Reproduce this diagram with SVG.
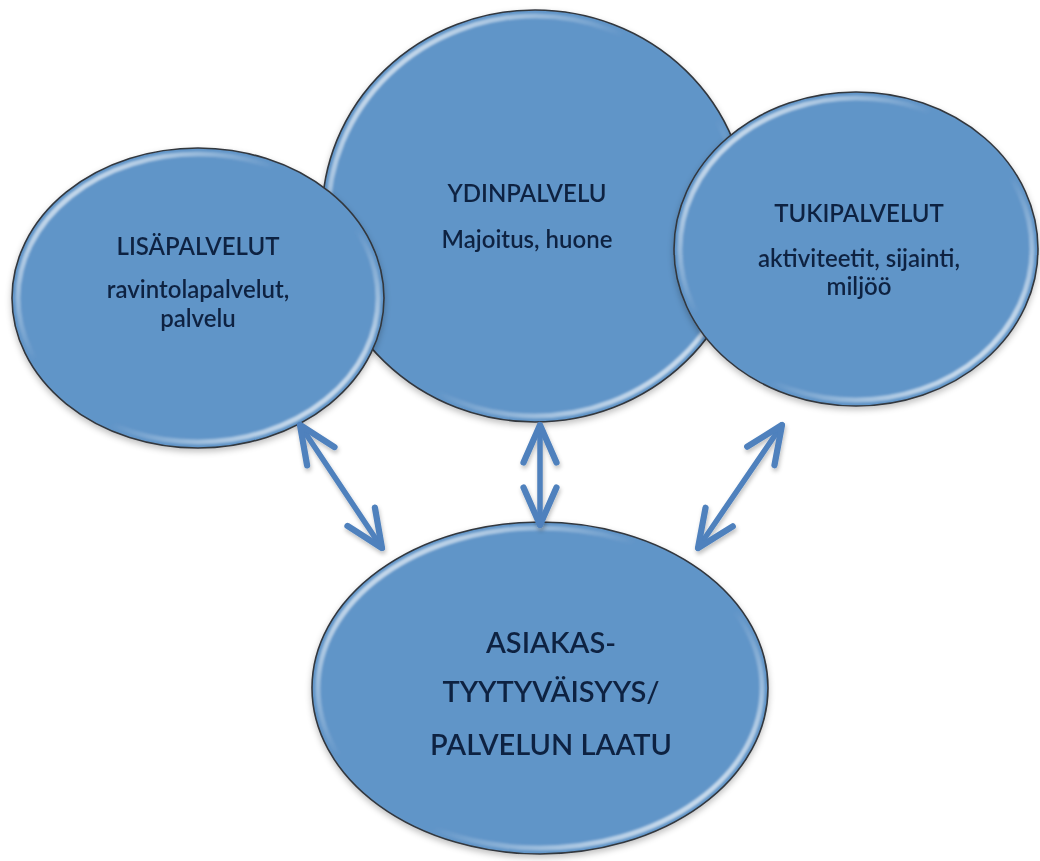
<svg xmlns="http://www.w3.org/2000/svg" width="1040" height="861" viewBox="0 0 1040 861">
  <defs>
    <style>
      .body { fill: #6195c8; stroke: #33373e; stroke-width: 1.6; }
      .rim { fill: none; stroke: url(#rimGrad); stroke-width: 5; filter: url(#soft); }
      .lbl { font-family: Lato, "Liberation Sans", sans-serif; fill: #112442; text-anchor: middle; font-weight: 600; }
      .t { font-size: 24px; }
      .b { font-size: 29px; }
      .link { fill: none; stroke: #4f81bd; stroke-width: 5.5; stroke-linecap: round;
              marker-start: url(#chev); marker-end: url(#chev); filter: url(#lineShadow); }
    </style>
    <linearGradient id="rimGrad" x1="0" y1="0" x2="1" y2="1">
      <stop offset="0" stop-color="#ffffff" stop-opacity="1"/>
      <stop offset="0.38" stop-color="#ffffff" stop-opacity="0"/>
      <stop offset="0.6" stop-color="#ffffff" stop-opacity="0"/>
      <stop offset="1" stop-color="#ffffff" stop-opacity="1"/>
    </linearGradient>
    <filter id="soft" x="-5%" y="-5%" width="110%" height="110%">
      <feGaussianBlur stdDeviation="1.3"/>
    </filter>
    <filter id="nodeShadow" x="-10%" y="-10%" width="120%" height="125%">
      <feGaussianBlur in="SourceAlpha" stdDeviation="3"/>
      <feOffset dx="0" dy="3" result="b"/>
      <feFlood flood-color="#000" flood-opacity="0.25"/>
      <feComposite in2="b" operator="in"/>
      <feMerge><feMergeNode/><feMergeNode in="SourceGraphic"/></feMerge>
    </filter>
    <!-- user-space region so the vertical link (zero-width bbox) still renders -->
    <filter id="lineShadow" filterUnits="userSpaceOnUse" x="0" y="380" width="1040" height="220">
      <feGaussianBlur in="SourceAlpha" stdDeviation="2"/>
      <feOffset dx="1" dy="3" result="b"/>
      <feFlood flood-color="#000" flood-opacity="0.25"/>
      <feComposite in2="b" operator="in"/>
      <feMerge><feMergeNode/><feMergeNode in="SourceGraphic"/></feMerge>
    </filter>
    <!-- open chevron arrowhead; tip sits on the line end -->
    <marker id="chev" markerUnits="userSpaceOnUse" markerWidth="50" markerHeight="50"
            viewBox="-40 -20 44 40" refX="0" refY="0" orient="auto-start-reverse">
      <path d="M -33 -14.5 L 0 0 L -33 14.5" fill="none" stroke="#4f81bd" stroke-width="5.5"
            stroke-linecap="round" stroke-linejoin="round"/>
    </marker>
  </defs>

  <rect width="1040" height="861" fill="#ffffff"/>

  <!-- core service (drawn first, sits behind its neighbours) -->
  <g id="ydinpalvelu" filter="url(#nodeShadow)">
    <ellipse class="body" cx="535" cy="216" rx="213" ry="206"/>
    <ellipse class="rim" cx="535" cy="216" rx="207" ry="200"/>
    <text class="lbl t" x="527" y="202">YDINPALVELU</text>
    <text class="lbl t" x="527" y="248">Majoitus, huone</text>
  </g>

  <g id="lisapalvelut" filter="url(#nodeShadow)">
    <ellipse class="body" cx="198" cy="298" rx="186" ry="150"/>
    <ellipse class="rim" cx="198" cy="298" rx="180" ry="144"/>
    <text class="lbl t" x="198" y="255">LISÄPALVELUT</text>
    <text class="lbl t" x="198" y="298">ravintolapalvelut,</text>
    <text class="lbl t" x="198" y="327">palvelu</text>
  </g>

  <g id="tukipalvelut" filter="url(#nodeShadow)">
    <ellipse class="body" cx="856" cy="249" rx="182" ry="157"/>
    <ellipse class="rim" cx="856" cy="249" rx="176" ry="151"/>
    <text class="lbl t" x="859" y="222">TUKIPALVELUT</text>
    <text class="lbl t" x="859" y="267">aktiviteetit, sijainti,</text>
    <text class="lbl t" x="859" y="295">miljöö</text>
  </g>

  <g id="asiakastyytyvaisyys" filter="url(#nodeShadow)">
    <ellipse class="body" cx="540" cy="688" rx="228" ry="166"/>
    <ellipse class="rim" cx="540" cy="688" rx="222" ry="160"/>
    <text class="lbl b" x="551" y="653">ASIAKAS-</text>
    <text class="lbl b" x="551" y="702">TYYTYVÄISYYS/</text>
    <text class="lbl b" x="551" y="755">PALVELUN LAATU</text>
  </g>

  <!-- two-way links between the service layers and customer satisfaction -->
  <g id="connectors">
    <line class="link" x1="300" y1="425" x2="382" y2="548"/>
    <line class="link" x1="540" y1="425" x2="540" y2="525"/>
    <line class="link" x1="782" y1="425" x2="698" y2="548"/>
  </g>
</svg>
